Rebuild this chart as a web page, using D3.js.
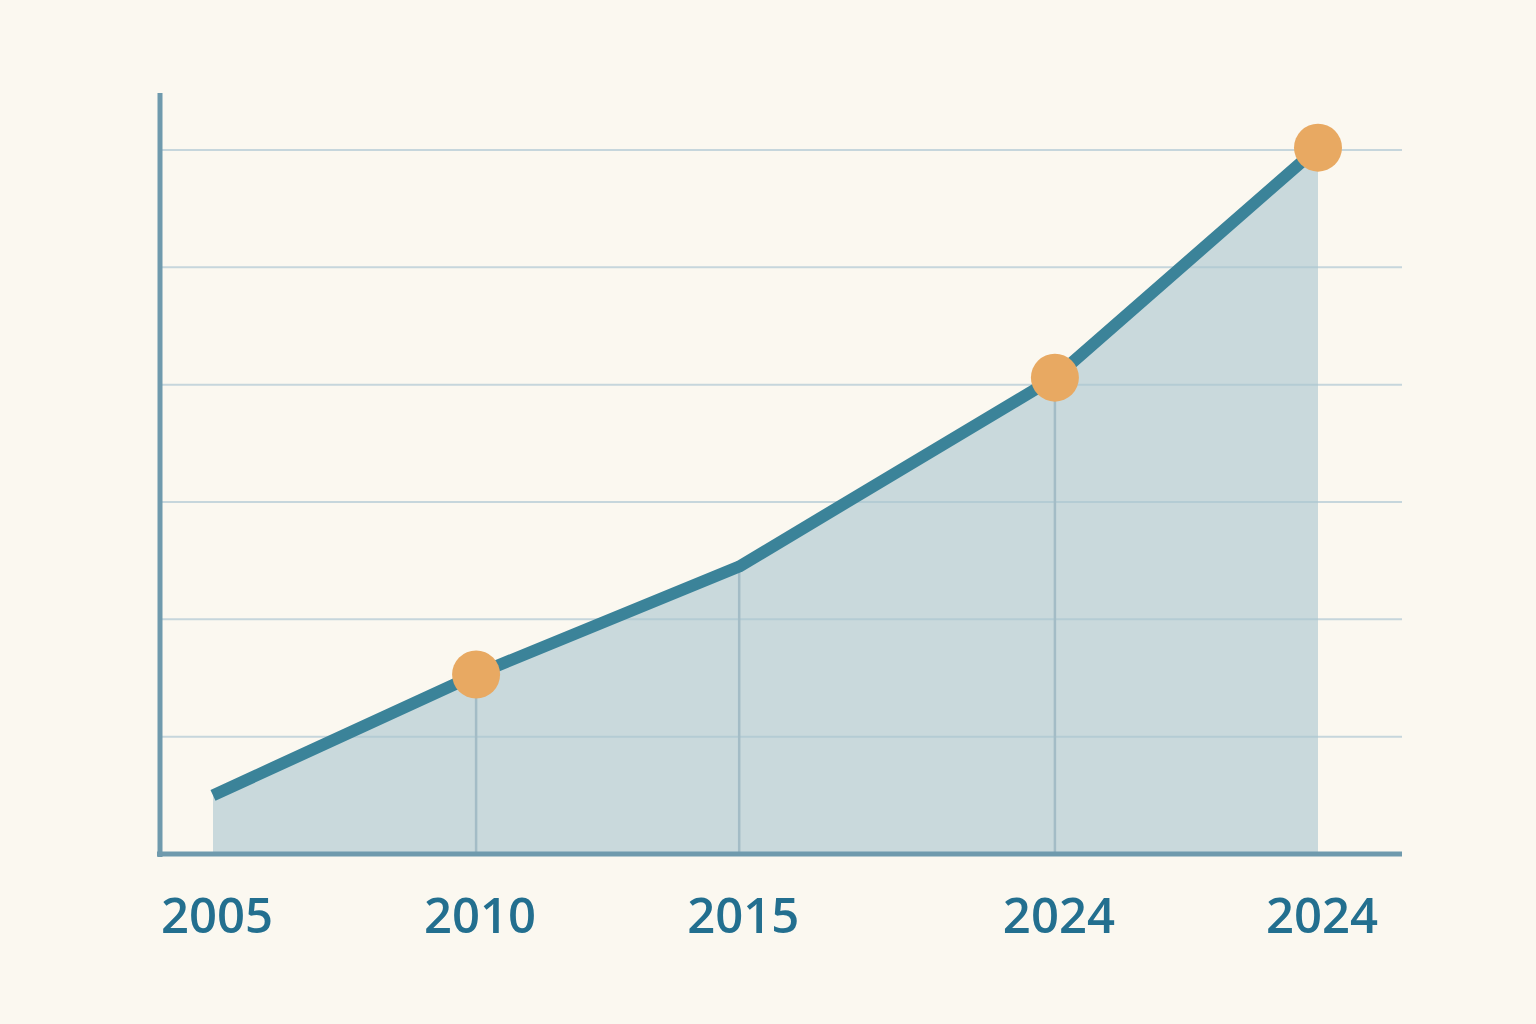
<!DOCTYPE html>
<html>
<head>
<meta charset="utf-8">
<script src="https://cdn.jsdelivr.net/npm/d3@7"></script>
<style>
  html, body { margin: 0; padding: 0; background: #fbf8f0; }
  svg { display: block; }
</style>
</head>
<body>
<div id="canvas"></div>
<script>
"use strict";

/* -------------------- Data -------------------- */

let yearLabels = ["2005", "2010", "2015", "2024", "2024"];
let xPositions = [0, 5, 10, 16, 21];
let values = [5, 15.3, 24.5, 40.6, 60.2];
let markedPoints = [1, 3, 4];
let gridValues = [10, 20, 30, 40, 50, 60];

/* -------------------- Layout -------------------- */

let svgWidth = 1536;
let svgHeight = 1024;

let svg = d3.select("#canvas")
    .append("svg")
    .attr("width", svgWidth)
    .attr("height", svgHeight);

svg.append("rect")
    .attr("width", svgWidth)
    .attr("height", svgHeight)
    .attr("fill", "#fbf8f0");

let xScale = d3.scaleLinear()
    .domain([0, 21])
    .range([213, 1318]);

let yScale = d3.scaleLinear()
    .domain([0, 60])
    .range([854, 150]);

let axisLeft = 160;
let axisRight = 1402;

let data = values.map(function (v, i) {
    return { x: xPositions[i], y: v, label: yearLabels[i] };
});

/* -------------------- Horizontal grid -------------------- */

svg.selectAll("line.grid")
    .data(gridValues)
    .join("line")
    .attr("class", "grid")
    .attr("x1", axisLeft)
    .attr("x2", axisRight)
    .attr("y1", d => yScale(d))
    .attr("y2", d => yScale(d))
    .attr("stroke", "#c6d6dc")
    .attr("stroke-width", 2);

/* -------------------- Area -------------------- */

let area = d3.area()
    .x(d => xScale(d.x))
    .y0(yScale(0))
    .y1(d => yScale(d.y));

svg.append("path")
    .datum(data)
    .attr("d", area)
    .attr("fill", "#a9c5cf")
    .attr("fill-opacity", 0.6);

/* Vertical drop lines */
svg.selectAll("line.drop")
    .data(data.slice(1, 4))
    .join("line")
    .attr("class", "drop")
    .attr("x1", d => xScale(d.x))
    .attr("x2", d => xScale(d.x))
    .attr("y1", d => yScale(d.y))
    .attr("y2", yScale(0))
    .attr("stroke", "#a3bcc6")
    .attr("stroke-width", 2.5);

/* -------------------- Line -------------------- */

let line = d3.line()
    .x(d => xScale(d.x))
    .y(d => yScale(d.y));

svg.append("path")
    .datum(data)
    .attr("d", line)
    .attr("fill", "none")
    .attr("stroke", "#3b8399")
    .attr("stroke-width", 12)
    .attr("stroke-linejoin", "round");

/* -------------------- Axes -------------------- */

svg.append("line")
    .attr("x1", axisLeft)
    .attr("x2", axisLeft)
    .attr("y1", 93)
    .attr("y2", 857)
    .attr("stroke", "#6f9aad")
    .attr("stroke-width", 5);

svg.append("line")
    .attr("x1", 157)
    .attr("x2", axisRight)
    .attr("y1", yScale(0))
    .attr("y2", yScale(0))
    .attr("stroke", "#6f9aad")
    .attr("stroke-width", 5);

/* -------------------- Markers -------------------- */

svg.selectAll("circle.marker")
    .data(markedPoints.map(i => data[i]))
    .join("circle")
    .attr("class", "marker")
    .attr("cx", d => xScale(d.x))
    .attr("cy", d => yScale(d.y))
    .attr("r", 24)
    .attr("fill", "#e8a962");

/* -------------------- Year labels -------------------- */

svg.selectAll("text.year")
    .data(data)
    .join("text")
    .attr("class", "year")
    .attr("x", d => xScale(d.x) + 4)
    .attr("y", 933)
    .attr("text-anchor", "middle")
    .attr("font-family", "'Open Sans', 'Noto Sans', sans-serif")
    .attr("font-weight", 600)
    .attr("font-size", 49)
    .attr("fill", "#236f8f")
    .text(d => d.label);
</script>
</body>
</html>
